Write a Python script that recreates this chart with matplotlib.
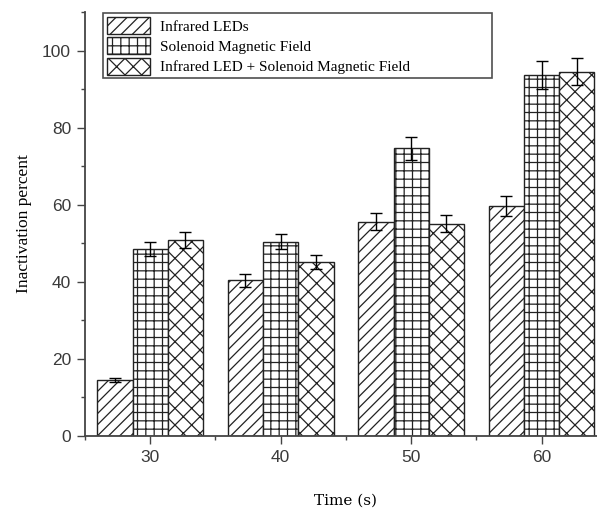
import matplotlib.pyplot as plt
import numpy as np
from matplotlib.ticker import MultipleLocator

# data
times = [30, 40, 50, 60]
infrared = [14.5, 40.3, 55.6, 59.7]
infrared_err = [0.5, 1.7, 2.2, 2.6]
solenoid = [48.5, 50.4, 74.6, 93.7]
solenoid_err = [1.8, 2.0, 3.0, 3.6]
combined = [50.8, 45.0, 55.0, 94.5]
combined_err = [2.0, 1.8, 2.2, 3.5]

labels = ["Infrared LEDs", "Solenoid Magnetic Field",
          "Infrared LED + Solenoid Magnetic Field"]
hatches = ["///", "++", "xx"]

plt.rcParams['hatch.linewidth'] = 0.9

fig = plt.figure(figsize=(5.97, 5.09), dpi=100)
ax = fig.add_axes([0.1424, 0.144, 0.874, 0.8324])

x = np.array(times, dtype=float)
w = 2.7
series = [(infrared, infrared_err), (solenoid, solenoid_err), (combined, combined_err)]
for i, (vals, errs) in enumerate(series):
    ax.bar(x + (i - 1) * w, vals, width=w, color="white", edgecolor="#222222",
           linewidth=1.0, hatch=hatches[i], label=labels[i])
    ax.errorbar(x + (i - 1) * w, vals, yerr=errs, fmt="none", ecolor="black",
                elinewidth=1.0, capsize=4, capthick=1.0)

ax.set_xlim(25, 65)
ax.set_ylim(0, 110)
ax.set_xticks(times)
ax.xaxis.set_minor_locator(MultipleLocator(5))
ax.yaxis.set_major_locator(MultipleLocator(20))
ax.yaxis.set_minor_locator(MultipleLocator(10))

for s in ["top", "right"]:
    ax.spines[s].set_visible(False)
for s in ["left", "bottom"]:
    ax.spines[s].set_color("#444444")
    ax.spines[s].set_linewidth(1.3)

ax.tick_params(which="major", direction="out", length=6, width=1.0, color="#444444",
               labelsize=12.5, labelcolor="#3a3a3a", pad=4)
ax.tick_params(which="minor", direction="out", length=3, width=1.0, color="#444444")
for lab in ax.get_xticklabels() + ax.get_yticklabels():
    lab.set_family("Liberation Sans")

ax.set_ylabel("Inactivation percent", family="Liberation Serif", fontsize=12.5, labelpad=7)
ax.set_xlabel("Time (s)", family="DejaVu Serif", fontsize=11, labelpad=21)

leg = ax.legend(loc="upper left", bbox_to_anchor=(0.0345, 0.832, 0.745, 0.165),
                mode="expand", fancybox=False, frameon=True, edgecolor="#222222",
                prop={"family": "Liberation Serif", "size": 11},
                handlelength=2.8, handleheight=1.35, labelspacing=0.2,
                handletextpad=0.7, borderpad=0.25, borderaxespad=0)
leg.get_frame().set_linewidth(1.2)

fig.savefig("out.png", dpi=100)
